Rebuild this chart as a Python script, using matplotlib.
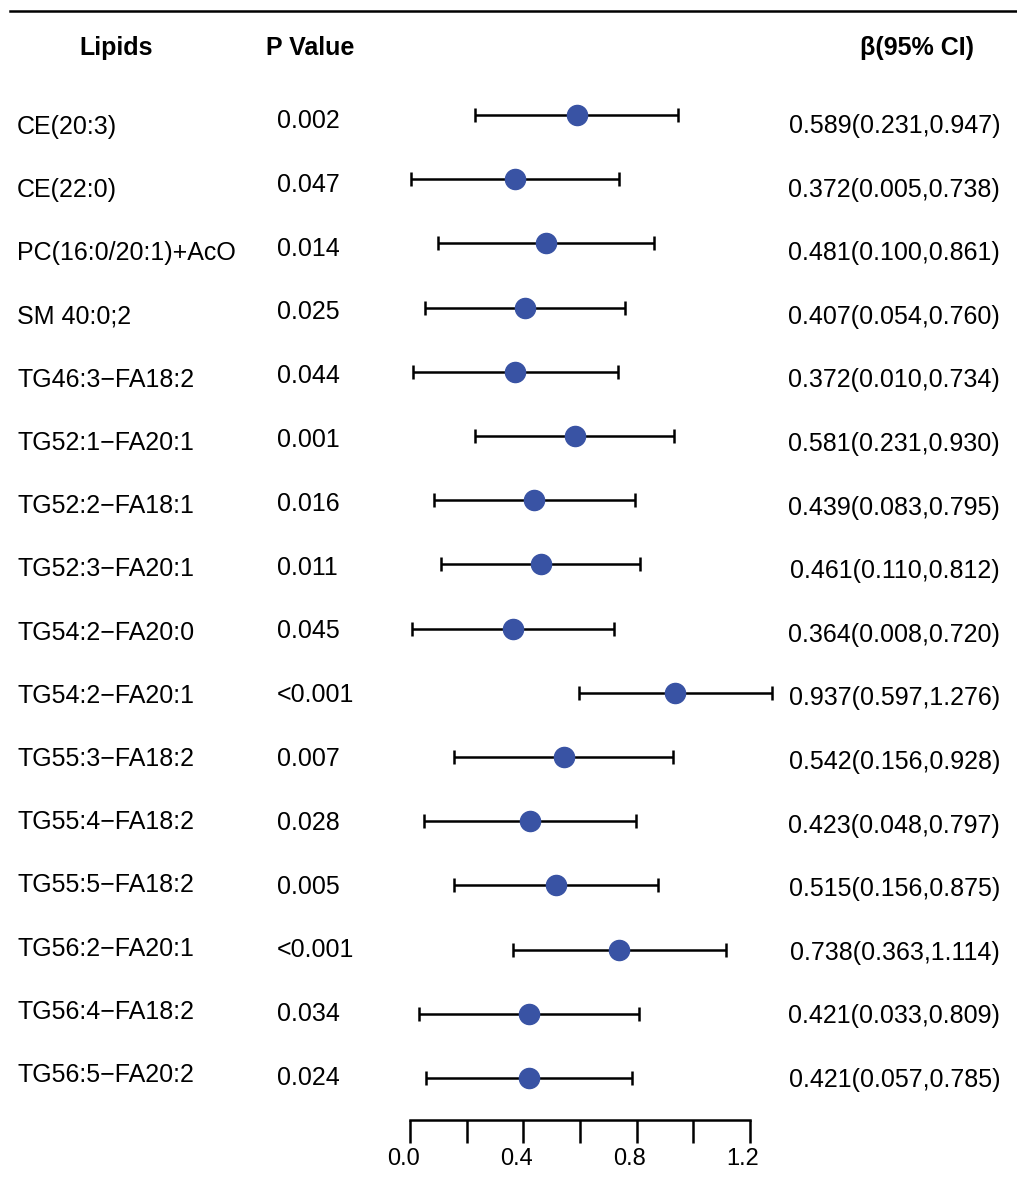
import numpy as np
import matplotlib
matplotlib.use("Agg")
from matplotlib import pyplot as plt
from matplotlib import transforms
from matplotlib.lines import Line2D

plt.rcParams['font.family'] = ['Liberation Sans', 'DejaVu Sans']

# data
lipids = ["CE(20:3)", "CE(22:0)", "PC(16:0/20:1)+AcO", "SM 40:0;2",
          "TG46:3\u2212FA18:2", "TG52:1\u2212FA20:1", "TG52:2\u2212FA18:1",
          "TG52:3\u2212FA20:1", "TG54:2\u2212FA20:0", "TG54:2\u2212FA20:1",
          "TG55:3\u2212FA18:2", "TG55:4\u2212FA18:2", "TG55:5\u2212FA18:2",
          "TG56:2\u2212FA20:1", "TG56:4\u2212FA18:2", "TG56:5\u2212FA20:2"]
pvals = ["0.002", "0.047", "0.014", "0.025", "0.044", "0.001", "0.016", "0.011",
         "0.045", "<0.001", "0.007", "0.028", "0.005", "<0.001", "0.034", "0.024"]
beta = np.array([0.589, 0.372, 0.481, 0.407, 0.372, 0.581, 0.439, 0.461,
                 0.364, 0.937, 0.542, 0.423, 0.515, 0.738, 0.421, 0.421])
lo = np.array([0.231, 0.005, 0.100, 0.054, 0.010, 0.231, 0.083, 0.110,
               0.008, 0.597, 0.156, 0.048, 0.156, 0.363, 0.033, 0.057])
hi = np.array([0.947, 0.738, 0.861, 0.760, 0.734, 0.930, 0.795, 0.812,
               0.720, 1.276, 0.928, 0.797, 0.875, 1.114, 0.809, 0.785])
xticks = [0.0, 0.2, 0.4, 0.6, 0.8, 1.0, 1.2]
xticklabels = ["0.0", "", "0.4", "", "0.8", "", "1.2"]

W, H = 1017, 1187
fig = plt.figure(figsize=(W / 100, H / 100), dpi=100)
fig.patch.set_facecolor('white')

n = len(lipids)
ypos = n - np.arange(n)   # top row = n
step = 64.2               # pixels per row
top_px, bot_px = 60, 1120
ax = fig.add_axes([410 / W, 1 - bot_px / H, 340 / W, (bot_px - top_px) / H])
ax.set_xlim(0, 1.2)
ax.set_ylim(n - (bot_px - 115) / step, n + (115 - top_px) / step)

blue = '#3953a4'
ax.hlines(ypos, lo, hi, color='black', lw=1.8, clip_on=False, zorder=2)
ax.plot(lo, ypos, ls='none', marker='|', ms=9.5, mew=1.8, color='black', clip_on=False)
ax.plot(hi, ypos, ls='none', marker='|', ms=9.5, mew=1.8, color='black', clip_on=False)
ax.plot(beta, ypos, ls='none', marker='o', ms=14.5, color=blue, mec=blue,
        clip_on=False, zorder=3)

for s in ['left', 'top', 'right']:
    ax.spines[s].set_visible(False)
ax.spines['bottom'].set_linewidth(1.8)
ax.set_yticks([])
ax.set_xticks(xticks)
ax.set_xticklabels(xticklabels, fontsize=17)
ax.tick_params(axis='x', length=16.5, width=1.8, pad=4)
shift = transforms.ScaledTranslation(-7 / 100, 0, fig.dpi_scale_trans)
for lab in ax.get_xticklabels():
    lab.set_transform(lab.get_transform() + shift)

# table text, positions in pixels
def fy(px):
    return 1 - px / H

fig.add_artist(Line2D([10 / W, 1], [fy(11), fy(11)], color='black', lw=1.8))

fig.text(116 / W, fy(55), "Lipids", ha='center', va='baseline', fontsize=18, fontweight='bold')
fig.text(310 / W, fy(55), "P Value", ha='center', va='baseline', fontsize=18, fontweight='bold')
fig.text(917 / W, fy(55), "\u03b2(95% CI)", ha='center', va='baseline', fontsize=18, fontweight='bold')

for i in range(n):
    fig.text(17 / W, fy(134 + 63.2 * i), lipids[i], ha='left', va='baseline', fontsize=18)
    fig.text(277 / W, fy(128 + 63.8 * i), pvals[i], ha='left', va='baseline', fontsize=18)
    fig.text(1000 / W, fy(133 + 63.6 * i),
             "{:.3f}({:.3f},{:.3f})".format(beta[i], lo[i], hi[i]),
             ha='right', va='baseline', fontsize=18)

fig.savefig("out.png", dpi=100, facecolor='white')
